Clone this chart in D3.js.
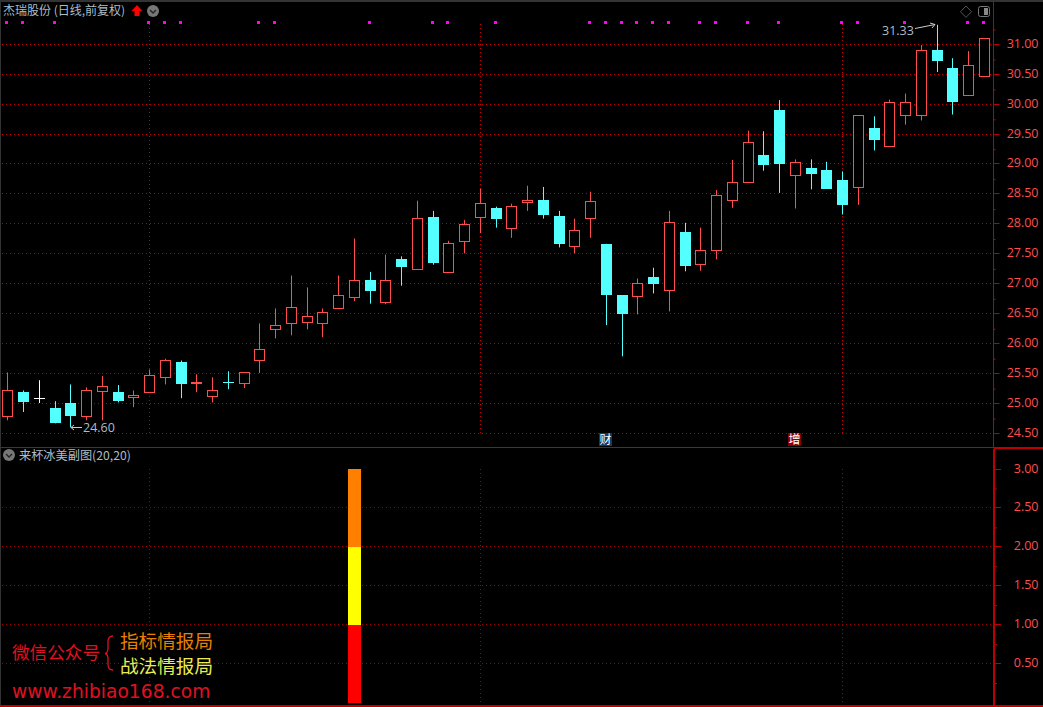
<!DOCTYPE html>
<html><head><meta charset="utf-8">
<script src="https://cdn.jsdelivr.net/npm/d3@7"></script>
<style>
html,body{margin:0;padding:0;background:#000;overflow:hidden}
svg{display:block}
text{font-family:"Noto Sans CJK SC","Noto Sans",sans-serif}
.num{font-family:"Open Sans","Noto Sans",sans-serif}
</style></head><body><svg id="c" width="1043" height="707"></svg>
<script>
const opens =[24.79,25.19,25.10,24.92,25.01,24.78,25.19,25.19,25.09,25.19,25.44,25.70,25.34,25.12,25.355,25.34,25.72,26.24,26.33,26.35,26.34,26.58,26.76,27.07,26.69,27.42,27.24,28.11,27.19,27.71,28.11,28.26,27.94,28.36,28.41,28.14,27.64,28.09,27.67,26.81,26.78,27.11,26.89,27.87,27.31,27.55,28.40,28.70,29.16,29.90,28.80,28.93,28.91,28.73,28.60,29.60,29.30,29.82,29.82,30.90,30.60,30.15,30.46];
const closes=[25.22,25.02,25.10,24.67,24.79,25.22,25.28,25.04,25.13,25.47,25.72,25.34,25.35,25.22,25.35,25.52,25.90,26.30,26.60,26.45,26.53,26.80,27.05,26.89,27.05,27.29,28.10,27.34,27.67,28.00,28.35,28.07,28.30,28.40,28.16,27.67,27.90,28.38,26.81,26.49,27.00,26.99,28.03,27.31,27.55,28.47,28.70,29.37,28.99,28.99,29.02,28.83,28.59,28.31,29.81,29.40,30.03,30.03,30.90,30.72,30.03,30.65,31.10];
const highs =[25.52,25.22,25.39,25.04,25.32,25.27,25.46,25.31,25.22,25.57,25.75,25.72,25.49,25.44,25.54,25.52,26.34,26.59,27.14,26.94,26.59,27.14,27.76,27.20,27.49,27.46,28.39,28.22,27.72,28.07,28.59,28.29,28.34,28.64,28.62,28.22,28.09,28.54,27.67,26.81,27.09,27.27,28.22,28.02,27.94,28.57,29.07,29.56,29.55,30.07,29.08,29.08,29.04,28.88,29.81,29.80,30.08,30.18,30.99,31.33,30.77,30.89,31.10];
const lows  =[24.72,24.86,25.01,24.67,24.60,24.72,24.72,25.02,24.94,25.19,25.32,25.09,25.19,25.02,25.24,25.26,25.51,26.09,26.14,26.24,26.11,26.58,26.71,26.67,26.66,26.97,27.24,27.32,27.19,27.51,27.85,27.94,27.77,28.22,28.09,27.61,27.51,27.77,26.31,25.79,26.49,26.84,26.54,27.21,27.22,27.41,28.27,28.70,28.89,28.52,28.26,28.58,28.59,28.16,28.32,29.23,29.30,29.66,29.73,30.54,29.83,30.15,30.46];
const signalIdx=[0,1,3,9,10,11,16,17,23,27,28,31,37,38,39,40,41,42,44,45,47,49,53,54,57,61,62];
const gridIdx=[9,30,53];
const priceTicks=[24.5,25,25.5,26,26.5,27,27.5,28,28.5,29,29.5,30,30.5,31];
const priceMinor=[24.25,24.75,25.25,25.75,26.25,26.75,27.25,27.75,28.25,28.75,29.25,29.75,30.25,30.75,31.25];
const subTicks=[0.5,1,1.5,2,2.5,3];
const subMinor=[0.25,0.75,1.25,1.75,2.25,2.75];
const subIndex=22;
const subSegments=[1,1,1];
const subColors=["#ff0000","#ffff00","#ff8000"];
const badges=[{i:38,label:"财",fill:"#0c3a66"},{i:50,label:"增",fill:"#8a0000"}];
const title="杰瑞股份 (日线,前复权)";
const subTitle="来杯冰美副图(20,20)";
const RED="#ff4d4d",CY="#54ffff",GRID="#c00000",AX="#c00000",TXT="#aebcc8";

const svg=d3.select("#c");
const x=d3.scaleLinear().domain([0,62]).range([7.75,984.25]);
const y=d3.scaleLinear().domain([24.5,31]).range([433.5,44.5]);
const ys=d3.scaleLinear().domain([0,3]).range([702.5,469]);
const snap=v=>Math.floor(v)+.5;
const gy=v=>Math.floor(v-0.2)+.5;
const px=i=>Math.floor(x(i));

svg.append("rect").attr("width",1043).attr("height",707).attr("fill","#000");
svg.append("line").attr("x1",0).attr("x2",1043).attr("y1",1).attr("y2",1).attr("stroke","#333").attr("stroke-width",2);
svg.append("line").attr("x1",.5).attr("x2",.5).attr("y1",0).attr("y2",707).attr("stroke","#333");

const dots={"stroke":GRID,"stroke-dasharray":"1 3"};
function applyAttrs(s,o){Object.entries(o).forEach(([k,v])=>s.attr(k,v));return s;}
applyAttrs(svg.append("g").selectAll("line").data(priceTicks).join("line")
  .attr("x1",2).attr("x2",993).attr("y1",d=>gy(y(d))).attr("y2",d=>gy(y(d))),dots);
applyAttrs(svg.append("g").selectAll("line").data(subTicks.filter(d=>d<3)).join("line")
  .attr("x1",2).attr("x2",993).attr("y1",d=>snap(ys(d))).attr("y2",d=>snap(ys(d))),dots).attr("stroke","#a00000");
applyAttrs(svg.append("g").selectAll("line").data(gridIdx).join("line")
  .attr("x1",d=>px(d)+.5).attr("x2",d=>px(d)+.5).attr("y1",24).attr("y2",434),dots);
applyAttrs(svg.append("g").selectAll("line").data(gridIdx).join("line")
  .attr("x1",d=>px(d)+.5).attr("x2",d=>px(d)+.5).attr("y1",469).attr("y2",704),dots).attr("stroke","#a00000");

svg.append("g").selectAll("rect").data(signalIdx).join("rect")
  .attr("x",d=>px(d)-2).attr("y",21).attr("width",3).attr("height",3).attr("fill","#ff00ff");

const idx=d3.range(opens.length);
const col=i=>closes[i]>opens[i]?RED:closes[i]<opens[i]?CY:"#ffffff";
const g=svg.append("g");
g.selectAll("line.w").data(idx).join("line").attr("class","w")
  .attr("x1",i=>px(i)+.5).attr("x2",i=>px(i)+.5)
  .attr("y1",i=>y(highs[i])).attr("y2",i=>y(lows[i])).attr("stroke",col);
g.selectAll("rect.b").data(idx).join("rect").attr("class","b")
  .attr("x",i=>px(i)-5+(closes[i]>opens[i]?.5:0)).attr("width",i=>closes[i]>opens[i]?10:11)
  .attr("y",i=>{const t=y(Math.max(opens[i],closes[i]));return closes[i]>opens[i]?snap(t):Math.round(t);})
  .attr("height",i=>Math.max(1,Math.round(Math.abs(y(opens[i])-y(closes[i])))))
  .attr("fill",i=>closes[i]>opens[i]?"#000":col(i))
  .attr("stroke",i=>closes[i]>opens[i]?RED:"none");

const stack=d3.cumsum(subSegments);
svg.append("g").selectAll("rect").data(subSegments).join("rect")
  .attr("x",px(subIndex)-6).attr("width",13)
  .attr("y",(d,i)=>Math.round(ys(stack[i]))).attr("height",(d,i)=>Math.round(ys(stack[i]-d))-Math.round(ys(stack[i])))
  .attr("fill",(d,i)=>subColors[i]);

svg.append("line").attr("x1",1).attr("x2",994).attr("y1",447.5).attr("y2",447.5).attr("stroke",AX);
svg.append("rect").attr("x",994).attr("y",447).attr("width",49).attr("height",2).attr("fill",AX);
svg.append("rect").attr("x",0).attr("y",705).attr("width",1043).attr("height",2).attr("fill",AX);
svg.append("rect").attr("x",993).attr("y",449).attr("width",2).attr("height",257).attr("fill",AX);
svg.append("line").attr("x1",993.5).attr("x2",993.5).attr("y1",2).attr("y2",447).attr("stroke",AX);

function drawAxis(scale,major,minor,x0,fy){
  const a=svg.append("g").attr("transform",`translate(${x0},0)`);
  const gm=a.append("g").call(d3.axisRight(scale).tickValues(minor).tickSize(2).tickFormat(""));
  gm.select(".domain").remove();
  gm.selectAll("line").attr("stroke",AX);
  const gM=a.append("g").call(d3.axisRight(scale).tickValues(major).tickSize(6).tickFormat(d3.format(".2f")));
  gM.select(".domain").remove();
  gM.selectAll(".tick").attr("transform",d=>`translate(0,${fy(scale(d))})`);
  gM.selectAll("line").attr("stroke",AX);
  gM.selectAll("text").attr("class","num").attr("x",1038.5-x0).attr("dy",".26em").attr("text-anchor","end")
    .attr("fill",RED).attr("font-size",12.5).style("font-family",'"Open Sans",sans-serif');
}
drawAxis(y,priceTicks,priceMinor,993.5,gy);
drawAxis(ys,subTicks,subMinor,995,snap);

const bg=svg.append("g");
bg.selectAll("rect").data(badges).join("rect").attr("x",d=>px(d.i)-7).attr("y",433).attr("width",13).attr("height",13).attr("fill",d=>d.fill);
bg.selectAll("text").data(badges).join("text").attr("x",d=>px(d.i)-.5).attr("y",444).attr("text-anchor","middle").attr("font-size",12).attr("fill","#fff").text(d=>d.label);

svg.append("text").attr("x",3).attr("y",14.5).attr("font-size",12).attr("fill",TXT).text(title);
svg.append("path").attr("d","M137 5 L142.5 11 L139.5 11 L139.5 16 L134.5 16 L134.5 11 L131.5 11 Z").attr("fill","#ff0000");
function chevron(cx,cy){
  svg.append("circle").attr("cx",cx).attr("cy",cy).attr("r",6).attr("fill","#777");
  svg.append("path").attr("d",`M${cx-3} ${cy-1} L${cx} ${cy+2} L${cx+3} ${cy-1}`).attr("fill","none").attr("stroke","#222").attr("stroke-width",1.3);
}
chevron(153,11);
chevron(9,455);
svg.append("text").attr("x",19).attr("y",459.5).attr("font-size",12.2).attr("fill",TXT).text(subTitle);

svg.append("text").attr("class","num").attr("x",83).attr("y",431.5).attr("font-size",12.5).attr("fill",TXT).style("font-family",'"Open Sans",sans-serif').text(d3.min(lows).toFixed(2));
svg.append("path").attr("d","M82 427.5 L71 427.5 M74 425 L71 427.5 L74 430").attr("fill","none").attr("stroke","#ccc");
svg.append("text").attr("class","num").attr("x",882).attr("y",35).attr("font-size",12.5).attr("fill",TXT).style("font-family",'"Open Sans",sans-serif').text(d3.max(highs).toFixed(2));
svg.append("path").attr("d","M915 28.5 L935 24.5 M930 23 L935 24.5 L932 28").attr("fill","none").attr("stroke","#ccc");

svg.append("path").attr("d","M966 6 L971.5 11.7 L966 17.4 L960.5 11.7 Z").attr("fill","none").attr("stroke","#555");
svg.append("rect").attr("x",978.5).attr("y",6.5).attr("width",11).attr("height",10).attr("rx",2).attr("fill","none").attr("stroke","#777");
svg.append("rect").attr("x",984).attr("y",8).attr("width",4).attr("height",7).attr("fill","#888");

svg.append("text").attr("x",12).attr("y",659).attr("font-size",17.6).attr("fill","#e01022").text("微信公众号");
svg.append("path").attr("d","M113 636 Q108 636 108 642 L108 648 Q108 653 105 653.5 Q108 654 108 659 L108 665 Q108 670 113 670").attr("fill","none").attr("stroke","#e01022").attr("stroke-width",1.3);
svg.append("text").attr("x",120).attr("y",648).attr("font-size",18.6).attr("fill","#e87f00").text("指标情报局");
svg.append("text").attr("x",120).attr("y",673).attr("font-size",18.6).attr("fill","#ecec50").text("战法情报局");
svg.append("text").attr("x",12).attr("y",698).attr("font-size",18.7).attr("fill","#e01022").style("font-family",'"DejaVu Sans",sans-serif').text("www.zhibiao168.com");
</script></body></html>
